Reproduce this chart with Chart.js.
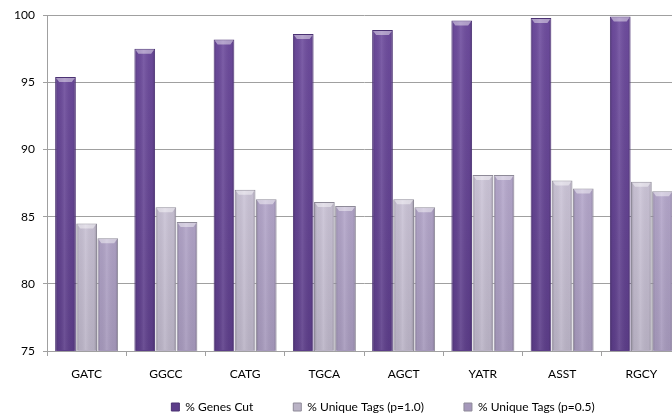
<!DOCTYPE html>
<html>
<head>
<meta charset="utf-8">
<script src="https://cdn.jsdelivr.net/npm/chart.js@4/dist/chart.umd.min.js"></script>
<style>
  html, body { margin: 0; padding: 0; overflow: hidden; background: #fff; }
  #wrap { width: 766px; height: 418px; position: relative; }
</style>
</head>
<body>
<div id="wrap"><canvas id="c" width="766" height="418"></canvas></div>
<script>
// Restriction motifs and the share of genes / unique tags they give
const motifs = ['GATC', 'GGCC', 'CATG', 'TGCA', 'AGCT', 'YATR', 'ASST', 'RGCY'];
const genesCut = [95.4, 97.5, 98.2, 98.6, 98.9, 99.6, 99.8, 99.9];
const uniqueTagsP10 = [84.5, 85.7, 87.0, 86.1, 86.3, 88.1, 87.7, 87.6];
const uniqueTagsP05 = [83.4, 84.6, 86.3, 85.8, 85.7, 88.1, 87.1, 86.9];
const yTicks = [75, 80, 85, 90, 95, 100];
const seriesNames = ['% Genes Cut', '% Unique Tags (p=1.0)', '% Unique Tags (p=0.5)'];

const FONT = 'Lato, "Open Sans", sans-serif';

// vertical fill: lighter at the top, a little deeper towards the axis
function vFill(top, bottom) {
  return (ctx) => {
    const chart = ctx.chart;
    const a = chart.chartArea;
    if (!a) return top;
    const g = chart.ctx.createLinearGradient(0, a.top, 0, a.bottom);
    g.addColorStop(0, top);
    g.addColorStop(1, bottom);
    return g;
  };
}

// rounded-column shading and bevelled caps on each bar
const bevelShade = {
  id: 'bevelShade',
  afterDatasetsDraw(chart) {
    const ctx = chart.ctx;
    const a = chart.chartArea;
    ctx.save();
    ctx.beginPath();
    ctx.rect(a.left, a.top - 2, a.right - a.left, a.bottom - a.top + 1);
    ctx.clip();
    chart.data.datasets.forEach((ds, i) => {
      const meta = chart.getDatasetMeta(i);
      meta.data.forEach(bar => {
        const p = bar.getProps(['x', 'y', 'base', 'width'], true);
        const l = p.x - p.width / 2, r = p.x + p.width / 2;
        const g = ctx.createLinearGradient(l, 0, r, 0);
        g.addColorStop(0, 'rgba(0,0,0,0.22)');
        g.addColorStop(0.14, 'rgba(0,0,0,0.03)');
        g.addColorStop(0.45, 'rgba(255,255,255,0.10)');
        g.addColorStop(0.86, 'rgba(0,0,0,0.03)');
        g.addColorStop(1, 'rgba(0,0,0,0.22)');
        ctx.fillStyle = g;
        ctx.fillRect(l + 1, p.y + 1, p.width - 2, Math.min(p.base, a.bottom) - p.y - 1);
        const cap = 5;
        ctx.beginPath();
        ctx.moveTo(l + 1, p.y + 1);
        ctx.lineTo(r - 1, p.y + 1);
        ctx.lineTo(r - 4, p.y + cap);
        ctx.lineTo(l + 4, p.y + cap);
        ctx.closePath();
        ctx.fillStyle = 'rgba(255,255,255,0.45)';
        ctx.fill();
      });
    });
    ctx.restore();
  }
};

// centre the legend across the full canvas width and lift it under the axis labels
const legendSpan = {
  id: 'legendSpan',
  afterLayout(chart) {
    const lg = chart.legend;
    if (!lg) return;
    lg.left = 0;
    lg.right = chart.width;
    lg.width = chart.width;
    lg.top = chart.height - 57;
    lg.bottom = chart.height;
    lg.height = 57;
  }
};

new Chart(document.getElementById('c'), {
  type: 'bar',
  data: {
    labels: motifs,
    datasets: [
      {
        label: seriesNames[0],
        data: genesCut,
        backgroundColor: vFill('#6f4d9f', '#5c3d89'),
        borderColor: '#4b3273',
        borderWidth: 1
      },
      {
        label: seriesNames[1],
        data: uniqueTagsP10,
        backgroundColor: vFill('#ddd5e8', '#bab3c6'),
        borderColor: '#8e8a98',
        borderWidth: 1
      },
      {
        label: seriesNames[2],
        data: uniqueTagsP05,
        backgroundColor: vFill('#c4b6db', '#a598bb'),
        borderColor: '#8e8a98',
        borderWidth: 1
      }
    ]
  },
  options: {
    responsive: false,
    animation: false,
    categoryPercentage: 0.8,
    barPercentage: 0.98,
    layout: { padding: { top: 15, right: 85, bottom: 0, left: 0 } },
    plugins: {
      legend: {
        position: 'bottom',
        maxHeight: 37,
        labels: {
          boxWidth: 8,
          boxHeight: 8,
          padding: 40,
          color: '#000',
          font: { family: FONT, size: 12 }
        }
      },
      tooltip: { enabled: false }
    },
    scales: {
      x: {
        grid: { display: true, drawOnChartArea: false, tickLength: 5, color: '#a0a0a0' },
        border: { color: '#a0a0a0' },
        ticks: {
          color: '#000',
          padding: 11,
          font: { family: FONT, size: 12 }
        },
        afterFit: (s) => { s.height = 30; }
      },
      y: {
        min: yTicks[0],
        max: yTicks[yTicks.length - 1],
        afterBuildTicks: (s) => { s.ticks = yTicks.map(v => ({ value: v })); },
        grid: { color: '#a0a0a0', tickLength: 4 },
        border: { color: '#a0a0a0' },
        ticks: {
          color: '#000',
          padding: 8,
          font: { family: FONT, size: 12 }
        },
        afterFit: (s) => { s.width = 47; }
      }
    }
  },
  plugins: [bevelShade, legendSpan]
});
</script>
</body>
</html>
